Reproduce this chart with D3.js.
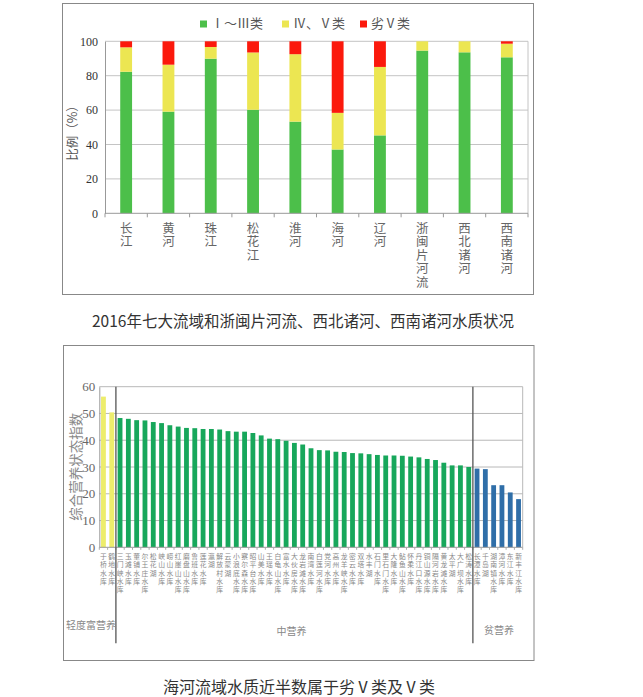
<!DOCTYPE html>
<html>
<head>
<meta charset="utf-8">
<script src="https://cdn.jsdelivr.net/npm/d3@7"></script>
<style>
  body { margin: 0; background: #fff; }
  text { font-family: "Noto Sans CJK SC", sans-serif; }
  .num { font-family: "Liberation Serif", "DejaVu Serif", serif; }
  .vert { writing-mode: vertical-rl; text-orientation: upright; }
</style>
</head>
<body>
<script>
// ---------- Datos: grafico 1 (calidad del agua por cuenca) ----------
const basins = ["长江", "黄河", "珠江", "松花江", "淮河", "海河", "辽河", "浙闽片河流", "西北诸河", "西南诸河"]
const grade1to3 = [82.3, 59.1, 89.9, 60.2, 53.3, 37.1, 45.3, 94.6, 93.6, 90.7]
const grade4to5 = [14.2, 27.3, 6.8, 33.3, 39.2, 21.3, 39.8, 5.4, 6.4, 7.9]
const gradeWorse = [3.5, 13.6, 3.3, 6.5, 7.5, 41.6, 14.9, 0, 0, 1.4]
const gradeNames = ["Ⅰ～Ⅲ类", "Ⅳ、Ⅴ类", "劣Ⅴ类"]
const pctTicks = [0, 20, 40, 60, 80, 100]

// ---------- Datos: grafico 2 (indice de estado trofico de embalses) ----------
const lightEutroNames = ["于桥水库", "鹤地水库"]
const lightEutroValues = [56.3, 50.4]
const mesoNames = [
  "三门峡水库", "玉滩水库", "董铺水库", "尔王庄水库", "松花湖", "峡山水库", "崂山水库",
  "红崖山水库", "磨盘山水库", "鲁班水库", "莲花水库", "瀛湖", "解放村水库", "云蒙湖",
  "小浪底水库", "察尔森水库", "昭平台水库", "山美水库", "王瑶水库", "白龟山水库", "富水水库",
  "大伙房水库", "龙岩滩水库", "南湾水库", "白莲河水库", "党河水库", "高州水库", "龙羊峡水库",
  "密云水库", "双塔水库", "水丰湖", "石门水库", "里石门水库", "大隆水库", "鲇鱼山水库",
  "怀柔水库", "丹江口水库", "铜山源水库", "隔河岩水库", "黄龙滩水库", "太平湖", "大广坝水库",
  "松涛水库"]
const mesoValues = [
  48.3, 48.0, 47.5, 47.4, 46.8, 46.4, 45.6,
  45.1, 44.6, 44.5, 44.2, 44.2, 44.0, 43.4,
  43.2, 43.2, 42.7, 41.8, 40.6, 40.4, 39.8,
  39.0, 38.4, 37.0, 36.3, 36.2, 35.7, 35.6,
  35.2, 35.1, 34.8, 34.5, 34.3, 34.3, 34.2,
  33.9, 33.6, 33.0, 32.6, 31.6, 30.6, 30.6,
  30.0]
const oligoNames = ["长潭水库", "千岛湖", "湖南镇水库", "漳河水库", "东江水库", "新丰江水库"]
const oligoValues = [29.4, 29.2, 23.2, 23.2, 20.5, 18.0]
const trophicGroups = ["轻度富营养", "中营养", "贫营养"]
const indexTicks = [0, 10, 20, 30, 40, 50, 60]

const svg = d3.select("body").append("svg")
  .attr("width", 643)
  .attr("height", 697)

//*********** Grafico 01 ***********/
const g1 = svg.append("g")
g1.append("rect")
  .attr("x", 62.5).attr("y", 3.5).attr("width", 471).attr("height", 291)
  .attr("fill", "none").attr("stroke", "#888")

const x1 = d3.scaleBand().domain(basins).range([105, 528]).paddingInner(0.72).paddingOuter(0.36)
const y1 = d3.scaleLinear().domain([0, 100]).range([213.3, 41.3])

// rejilla
g1.append("g").selectAll("line").data(pctTicks.slice(1)).join("line")
  .attr("x1", 105).attr("x2", 528)
  .attr("y1", (d) => y1(d)).attr("y2", (d) => y1(d))
  .attr("stroke", "#c4c4c4")
g1.append("line").attr("x1", 528).attr("x2", 528).attr("y1", y1(100)).attr("y2", y1(0)).attr("stroke", "#c4c4c4")

const table1 = basins.map((b, i) => ({
  basin: b, [gradeNames[0]]: grade1to3[i], [gradeNames[1]]: grade4to5[i], [gradeNames[2]]: gradeWorse[i],
}))
const stack1 = d3.stack().keys(gradeNames)(table1)
const color1 = d3.scaleOrdinal().domain(gradeNames).range(["#4cbf4a", "#ece652", "#fb190c"])

g1.append("g").selectAll("g").data(stack1).join("g")
  .attr("fill", (s) => color1(s.key))
  .selectAll("rect").data((s) => s).join("rect")
  .attr("x", (d) => x1(d.data.basin))
  .attr("width", x1.bandwidth())
  .attr("y", (d) => y1(d[1]))
  .attr("height", (d) => y1(d[0]) - y1(d[1]))

// ejes
const yAxis1 = g1.append("g").attr("transform", "translate(105,0)")
  .call(d3.axisLeft(y1).tickValues(pctTicks).tickSize(0).tickPadding(7))
yAxis1.select(".domain").attr("stroke", "#999")
yAxis1.selectAll("text").attr("class", "num").attr("font-size", 12).attr("fill", "#333")

g1.append("line").attr("x1", 105).attr("x2", 528).attr("y1", y1(0)).attr("y2", y1(0)).attr("stroke", "#999")
g1.append("g").selectAll("line").data(d3.range(basins.length + 1)).join("line")
  .attr("x1", (i) => 105 + i * x1.step()).attr("x2", (i) => 105 + i * x1.step())
  .attr("y1", y1(0)).attr("y2", y1(0) + 4)
  .attr("stroke", "#999")

// etiquetas verticales (escritura vertical)
g1.append("g").selectAll("text").data(basins).join("text")
  .attr("class", "vert")
  .attr("x", (b) => x1(b) + x1.bandwidth() / 2)
  .attr("y", 221.5)
  .attr("font-size", 12.5)
  .attr("letter-spacing", 1.1)
  .attr("fill", "#666")
  .text((b) => b)

g1.append("text")
  .attr("transform", "translate(77,130) rotate(-90)")
  .attr("text-anchor", "middle").attr("font-size", 12.5).attr("fill", "#555")
  .text("比例（%）")

// leyenda
const legX = [200, 282, 360]
const leg = g1.append("g").selectAll("g").data(gradeNames).join("g")
  .attr("transform", (d, i) => `translate(${legX[i]},20.5)`)
leg.append("rect").attr("width", 7).attr("height", 7).attr("fill", (d) => color1(d))
leg.append("text").attr("x", 11).attr("y", 7.5)
  .attr("font-size", 13).attr("fill", "#555").text((d) => d)

g1.append("text")
  .attr("x", 92).attr("y", 327)
  .attr("font-size", 15.5).attr("fill", "#333")
  .text("2016年七大流域和浙闽片河流、西北诸河、西南诸河水质状况")

//*********** Grafico 02 ***********/
const g2 = svg.append("g")
g2.append("rect")
  .attr("x", 63.5).attr("y", 345.5).attr("width", 470.5).attr("height", 315)
  .attr("fill", "none").attr("stroke", "#888")

const reservoirs = [
  ...lightEutroNames.map((n, i) => ({ name: n, value: lightEutroValues[i], group: trophicGroups[0] })),
  ...mesoNames.map((n, i) => ({ name: n, value: mesoValues[i], group: trophicGroups[1] })),
  ...oligoNames.map((n, i) => ({ name: n, value: oligoValues[i], group: trophicGroups[2] })),
]

const x2 = d3.scaleBand().domain(reservoirs.map((d) => d.name)).range([99.3, 522.7]).paddingInner(0.42).paddingOuter(0.21)
const y2 = d3.scaleLinear().domain([0, 60]).range([547.3, 386.7])
const color2 = d3.scaleOrdinal().domain(trophicGroups).range(["#eded6c", "#17a75b", "#2f6ea8"])

g2.append("g").selectAll("line").data(indexTicks.slice(1)).join("line")
  .attr("x1", 99.3).attr("x2", 522.7)
  .attr("y1", (d) => y2(d)).attr("y2", (d) => y2(d))
  .attr("stroke", "#b8b8b8")
g2.append("line").attr("x1", 522.7).attr("x2", 522.7).attr("y1", y2(60)).attr("y2", y2(0)).attr("stroke", "#b8b8b8")

g2.append("g").selectAll("rect").data(reservoirs).join("rect")
  .attr("x", (d) => x2(d.name))
  .attr("width", x2.bandwidth())
  .attr("y", (d) => y2(d.value))
  .attr("height", (d) => y2(0) - y2(d.value))
  .attr("fill", (d) => color2(d.group))

const yAxis2 = g2.append("g").attr("transform", "translate(99.3,0)")
  .call(d3.axisLeft(y2).tickValues(indexTicks).tickSize(0).tickPadding(4))
yAxis2.select(".domain").attr("stroke", "#999")
yAxis2.selectAll("text").attr("class", "num").attr("font-size", 13).attr("fill", "#666")

g2.append("line").attr("x1", 99.3).attr("x2", 522.7).attr("y1", y2(0)).attr("y2", y2(0)).attr("stroke", "#999")
g2.append("g").selectAll("line").data(d3.range(reservoirs.length + 1)).join("line")
  .attr("x1", (i) => 99.3 + i * x2.step()).attr("x2", (i) => 99.3 + i * x2.step())
  .attr("y1", y2(0)).attr("y2", y2(0) + 2.5)
  .attr("stroke", "#aaa")

g2.append("g").selectAll("text").data(reservoirs).join("text")
  .attr("class", "vert")
  .attr("x", (d) => x2(d.name) + x2.bandwidth() / 2)
  .attr("y", 553.2)
  .attr("font-size", 6.8)
  .attr("letter-spacing", 1.5)
  .attr("fill", "#888")
  .text((d) => d.name)

// separadores entre grupos
const sepIdx = [lightEutroNames.length, lightEutroNames.length + mesoNames.length]
g2.append("g").selectAll("line").data(sepIdx).join("line")
  .attr("x1", (i) => 99.3 + i * x2.step()).attr("x2", (i) => 99.3 + i * x2.step())
  .attr("y1", y2(60)).attr("y2", 643.3)
  .attr("stroke", "#555").attr("stroke-width", 1.3)

const groupPos = [[91, 629], [291.5, 634.5], [499, 634]]
g2.append("g").selectAll("text").data(trophicGroups).join("text")
  .attr("x", (d, i) => groupPos[i][0]).attr("y", (d, i) => groupPos[i][1])
  .attr("text-anchor", "middle").attr("font-size", 10).attr("fill", "#888")
  .text((d) => d)

g2.append("text")
  .attr("transform", "translate(81,466.7) rotate(-90)")
  .attr("text-anchor", "middle").attr("font-size", 13.5).attr("fill", "#888")
  .text("综合营养状态指数")

g2.append("text")
  .attr("x", 299).attr("y", 693)
  .attr("text-anchor", "middle").attr("font-size", 16).attr("fill", "#333")
  .text("海河流域水质近半数属于劣Ⅴ类及Ⅴ类")
</script>
</body>
</html>
